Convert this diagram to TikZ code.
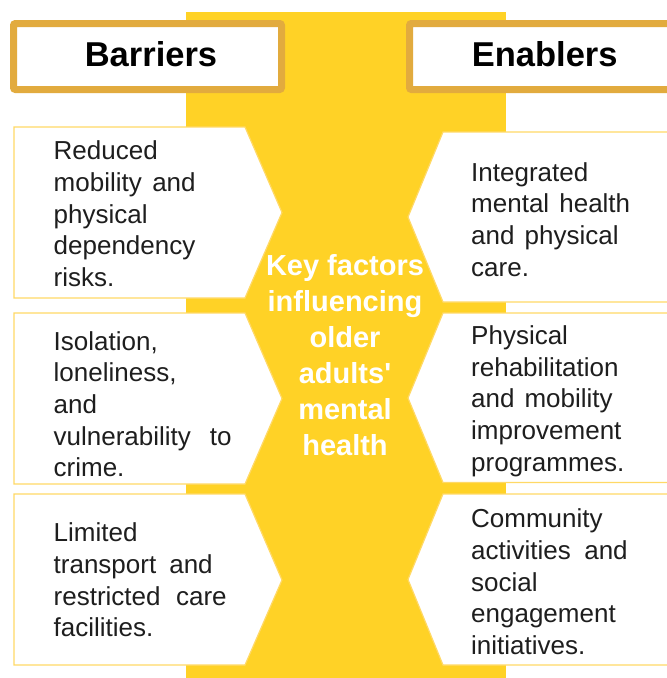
\documentclass[tikz,border=0pt]{standalone}
\usepackage{fontspec}
\newfontfamily\arialf{Liberation Sans}
\definecolor{bandyellow}{HTML}{FFD226}
\definecolor{hdrgold}{HTML}{E2AB3E}
\definecolor{boxline}{HTML}{FFD966}
\definecolor{bodytext}{HTML}{1E1E1E}
\newcommand\leftlines[1]{\vtop{\baselineskip=31.7pt\lineskiplimit=-100pt\lineskip=0pt\halign{##\hfil\cr#1\crcr}}}
\newcommand\centerlines[1]{\vtop{\baselineskip=36pt\lineskiplimit=-100pt\lineskip=0pt\halign{\hfil##\hfil\cr#1\crcr}}}
\newcommand\jl[2]{\makebox[#1pt][s]{#2}}
\tikzset{
  band/.style={fill=bandyellow},
  hdrbox/.style={draw=hdrgold, line width=7pt, fill=white, rounded corners=2pt},
  itembox/.style={draw=boxline, line width=1.2pt, fill=white},
  hdrtxt/.style={anchor=base, inner sep=0pt, font=\arialf\bfseries\fontsize{34.5}{40}\selectfont, text=black},
  bodytxt/.style={anchor=base west, inner sep=0pt, font=\arialf\fontsize{26}{31.7}\selectfont, text=bodytext},
  centertxt/.style={anchor=base, inner sep=0pt, font=\arialf\bfseries\fontsize{29}{36}\selectfont, text=white},
}
\begin{document}
\begin{tikzpicture}[x=1pt,y=-1pt]
\useasboundingbox (0,0) rectangle (667,678);
\fill[white] (0,0) rectangle (667,678);
% central band
\fill[band] (186,12) rectangle (506,678);
% headers
\draw[hdrbox] (13.5,23.5) rectangle (281.5,89.5);
\draw[hdrbox] (409.5,23.5) rectangle (680,89.5);
\node[hdrtxt] (hb) at (151,66.7) {Barriers};
\node[hdrtxt] (he) at (544.7,66.7) {Enablers};
% barrier boxes
\draw[itembox] (14,127) -- (245,127) -- (282,212.5) -- (245,298) -- (14,298) -- cycle;
\draw[itembox] (14,313) -- (245,313) -- (282,398.5) -- (245,484) -- (14,484) -- cycle;
\draw[itembox] (14,494) -- (245,494) -- (282,580) -- (245,665) -- (14,665) -- cycle;
% enabler boxes
\draw[itembox] (680,132) -- (443,132) -- (408,217) -- (443,302) -- (680,302);
\draw[itembox] (680,313) -- (443,313) -- (408,398) -- (443,482.5) -- (680,482.5);
\draw[itembox] (680,494) -- (443,494) -- (408,579.5) -- (443,665) -- (680,665);
% texts
\node[bodytxt] (b1) at (53.5,159.8) {\leftlines{Reduced\cr\jl{142}{mobility and}\cr physical\cr dependency\cr risks.}};
\node[bodytxt] (b2) at (53.5,350) {\leftlines{Isolation,\cr loneliness,\cr and\cr\jl{178}{vulnerability to}\cr crime.}};
\node[bodytxt] (b3) at (53.5,541.7) {\leftlines{Limited\cr\jl{159}{transport and}\cr\jl{173}{restricted care}\cr facilities.}};
\node[bodytxt] (e1) at (471,181) {\leftlines{Integrated\cr\jl{159}{mental health}\cr\jl{147.5}{and physical}\cr care.}};
\node[bodytxt] (e2) at (471,344.3) {\leftlines{Physical\cr rehabilitation\cr\jl{141.5}{and mobility}\cr improvement\cr programmes.}};
\node[bodytxt] (e3) at (471,527.7) {\leftlines{Community\cr\jl{156.5}{activities and}\cr social\cr engagement\cr initiatives.}};
\node[centertxt] (c) at (345,275) {\centerlines{Key factors\cr influencing\cr older\cr adults'\cr mental\cr health}};
\end{tikzpicture}
\end{document}
